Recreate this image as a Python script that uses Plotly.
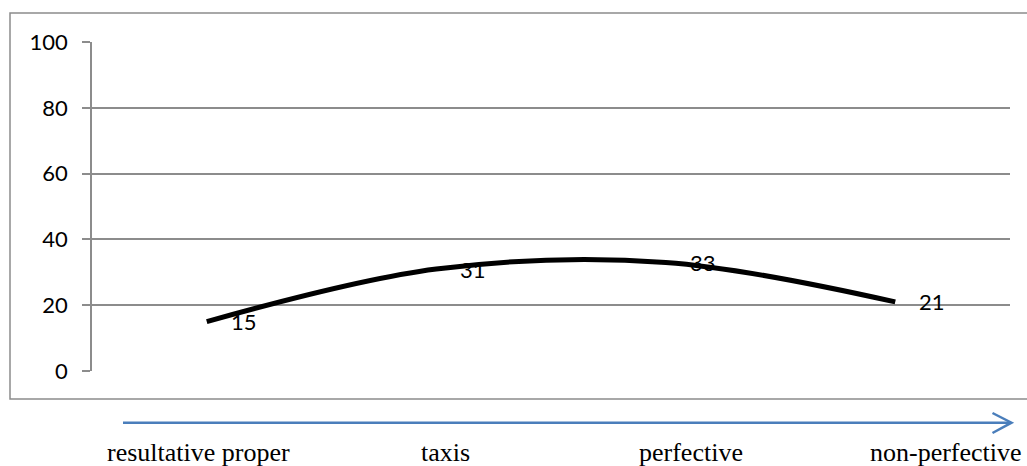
import plotly.graph_objects as go

categories = ["resultative proper", "taxis", "perfective", "non-perfective"]
values = [15, 31, 33, 21]
y_ticks = [0, 20, 40, 60, 80, 100]

W, H = 1027, 466
L, R, T, B = 92, 17, 42, 95
PW, PH = W - L - R, H - T - B

def px(x):
    return (x - L) / PW

def py(y):
    return (H - B - y) / PH

grey = "#8c8c8c"
blue = "#4a7ebb"

fig = go.Figure()
fig.add_trace(go.Scatter(
    x=list(range(len(values))), y=values, mode="lines",
    line=dict(color="black", width=5, shape="spline", smoothing=1.0),
    hoverinfo="skip", showlegend=False,
))

for i, v in enumerate(values):
    fig.add_annotation(x=i, y=v, text=str(v), showarrow=False,
                       xanchor="left", yanchor="middle", xshift=22,
                       font=dict(family="Lato", size=22, color="black"))

label_x = [198.7, 445, 691, 946]
for lab, lx in zip(categories, label_x):
    fig.add_annotation(x=px(lx), y=py(452), xref="paper", yref="paper",
                       text=lab, showarrow=False, xanchor="center", yanchor="middle",
                       font=dict(family="Liberation Serif", size=26, color="black"))

shapes = [
    dict(type="rect", xref="paper", yref="paper", x0=px(10), x1=px(1035), y0=py(399), y1=py(13),
         line=dict(color=grey, width=1.5), layer="below"),
    dict(type="line", xref="paper", yref="paper", x0=px(123), x1=px(1011), y0=py(422.7), y1=py(422.7),
         line=dict(color=blue, width=2.5)),
    dict(type="path", xref="paper", yref="paper",
         path=f"M {px(992.5)} {py(413)} L {px(1011.5)} {py(422.7)} L {px(992.5)} {py(433)}",
         line=dict(color=blue, width=2.5)),
]

fig.update_layout(
    width=W, height=H,
    margin=dict(l=L, r=R, t=T, b=B),
    paper_bgcolor="white", plot_bgcolor="white",
    shapes=shapes,
    xaxis=dict(range=[-0.5, len(values) - 0.5], showgrid=False, zeroline=False,
               showticklabels=False, showline=False, ticks=""),
    yaxis=dict(range=[0, 100], tickvals=y_ticks, showgrid=True, gridcolor=grey, gridwidth=1.5,
               zeroline=False, showline=True, linecolor=grey, linewidth=1.5,
               ticks="outside", ticklen=8, tickcolor=grey, tickwidth=1.5,
               ticklabelstandoff=10,
               tickfont=dict(family="Lato", size=22, color="black")),
)
fig.write_html("out.html", config={"displayModeBar": False},
               post_script="document.body.style.margin='0';document.body.style.overflow='hidden';")
